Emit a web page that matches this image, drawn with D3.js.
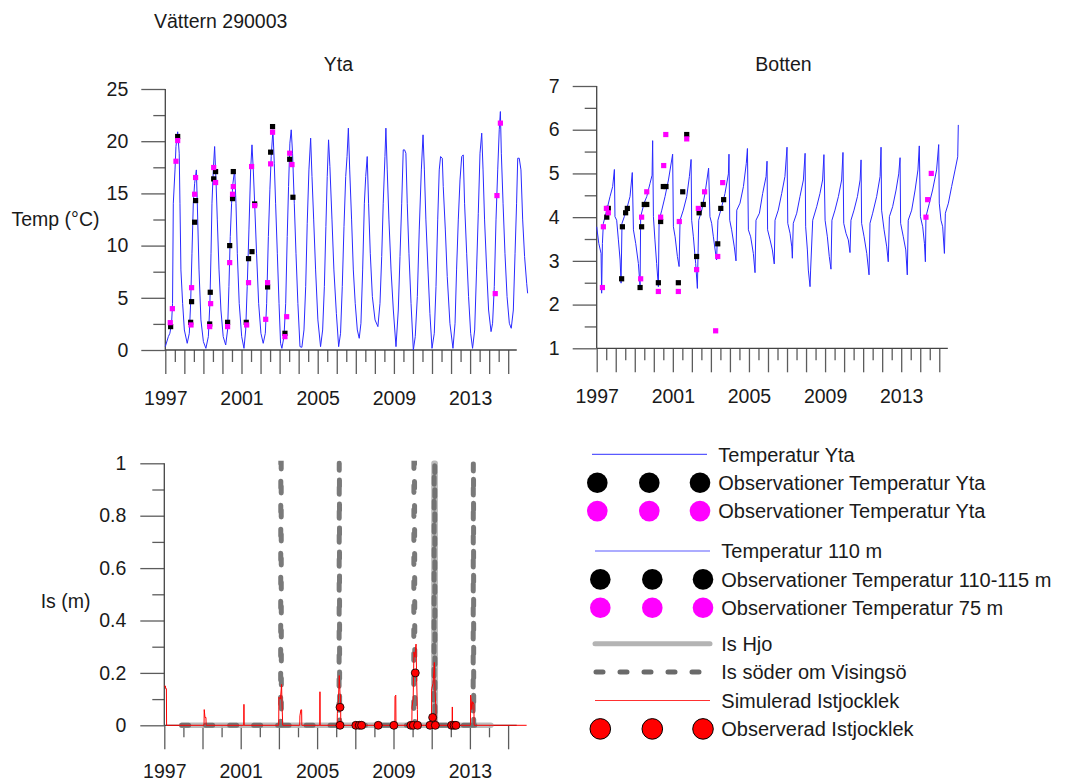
<!DOCTYPE html>
<html>
<head>
<meta charset="utf-8">
<script src="https://cdn.jsdelivr.net/npm/d3@7"></script>
<style>
  body { margin: 0; background: #fff; }
  svg { font-family: Arial, "Liberation Sans", sans-serif; }
  .tick text { fill: #1a1a1a; }
</style>
</head>
<body>
<script>
// ---- data: [decimal year, value] ----
const ytaModell = [
  [1997.00,0.32],[1997.16,1.28],[1997.24,1.60],[1997.33,2.56],[1997.38,4.47],[1997.42,14.06],[1997.51,17.25],[1997.56,19.5],[1997.65,20.9],[1997.73,18.85],[1997.77,14.06],[1997.82,7.67],[1997.91,4.47],[1998.00,1.92],[1998.15,0.64],
  [1998.26,1.60],[1998.33,4.47],[1998.40,9.27],[1998.47,14.06],[1998.54,15.97],[1998.63,17.25],[1998.68,14.06],[1998.77,7.67],[1998.87,2.88],[1999.00,0.80],[1999.13,0.16],
  [1999.26,1.28],[1999.34,4.47],[1999.40,9.27],[1999.45,14.06],[1999.52,17.25],[1999.59,19.49],[1999.66,16.29],[1999.73,12.46],[1999.82,7.67],[1999.92,3.83],[2000.04,1.28],[2000.17,0.48],
  [2000.27,1.92],[2000.34,6.07],[2000.41,10.86],[2000.48,14.06],[2000.55,15.97],[2000.64,17.25],[2000.71,14.06],[2000.78,9.27],[2000.88,4.47],[2001.01,1.28],[2001.13,0.16],
  [2001.22,1.92],[2001.30,6.07],[2001.39,11.5],[2001.48,17.25],[2001.55,19.65],[2001.62,17.25],[2001.69,14.06],[2001.79,9.27],[2001.90,4.47],[2002.02,1.60],[2002.14,0.64],
  [2002.25,1.60],[2002.32,4.47],[2002.41,10.86],[2002.49,15.34],[2002.56,18.53],[2002.65,21.09],[2002.72,17.89],[2002.79,14.06],[2002.88,9.27],[2002.97,4.47],[2003.05,0.64],[2003.12,0.16],
  [2003.23,1.28],[2003.32,4.47],[2003.40,10.86],[2003.47,15.65],[2003.54,19.81],[2003.61,21.09],[2003.68,18.85],[2003.77,14.06],[2003.86,9.27],[2003.96,4.47],[2004.07,0.32],[2004.17,0.26],
  [2004.28,1.92],[2004.37,6.07],[2004.45,12.14],[2004.54,17.25],[2004.63,20.29],[2004.70,16.61],[2004.79,12.46],[2004.89,7.67],[2005.01,2.88],[2005.15,0.32],
  [2005.26,1.92],[2005.35,6.07],[2005.43,11.82],[2005.50,16.61],[2005.57,20.13],[2005.64,17.57],[2005.75,12.46],[2005.85,7.67],[2005.98,3.51],[2006.10,0.32],
  [2006.20,1.60],[2006.29,6.07],[2006.38,11.82],[2006.47,16.61],[2006.54,18.53],[2006.61,21.25],[2006.68,17.25],[2006.78,12.46],[2006.87,7.67],[2006.97,4.47],[2007.08,1.92],[2007.18,1.12],
  [2007.27,2.56],[2007.36,7.67],[2007.45,14.06],[2007.52,16.61],[2007.60,18.53],[2007.67,14.06],[2007.76,9.27],[2007.87,5.11],[2008.01,2.88],[2008.16,2.24],
  [2008.27,4.47],[2008.36,8.95],[2008.44,14.06],[2008.53,18.53],[2008.58,21.25],[2008.65,17.25],[2008.74,12.46],[2008.85,7.67],[2008.97,3.83],[2009.11,0.32],
  [2009.23,3.83],[2009.32,8.95],[2009.41,14.06],[2009.49,19.17],[2009.56,19.17],[2009.63,18.85],[2009.70,14.06],[2009.79,9.27],[2009.90,4.47],[2010.02,0],
  [2010.12,1.28],[2010.23,5.11],[2010.33,11.5],[2010.44,17.25],[2010.53,20.61],[2010.60,17.25],[2010.68,12.46],[2010.79,7.67],[2010.89,3.51],[2011.00,0.16],
  [2011.12,1.60],[2011.21,6.07],[2011.30,12.46],[2011.38,17.25],[2011.45,18.53],[2011.54,18.37],[2011.59,15.65],[2011.70,11.5],[2011.80,7.03],[2011.94,2.56],[2012.10,0.16],
  [2012.21,2.56],[2012.29,7.67],[2012.38,12.46],[2012.47,16.29],[2012.56,18.53],[2012.64,18.69],[2012.71,14.06],[2012.82,9.27],[2012.92,5.11],[2013.03,1.60],[2013.13,0.16],
  [2013.24,1.92],[2013.34,7.67],[2013.43,13.1],[2013.52,18.85],[2013.61,20.77],[2013.68,17.25],[2013.76,12.46],[2013.87,7.67],[2013.97,3.83],[2014.10,1.76],
  [2014.18,2.56],[2014.27,6.07],[2014.36,12.46],[2014.45,17.25],[2014.53,21.09],[2014.59,22.84],[2014.64,18.85],[2014.73,14.06],[2014.83,9.27],[2014.94,5.11],[2015.06,2.56],[2015.16,2.08],
  [2015.27,3.83],[2015.36,9.27],[2015.44,14.06],[2015.50,18.37],[2015.58,18.37],[2015.67,17.25],[2015.76,12.46],[2015.86,8.95],[2015.97,6.39],[2016.02,5.43]
];
const ytaObsSvart = [
  [1997.28,2.24],[1997.65,20.45],[1998.33,2.65],[1998.38,4.63],[1998.54,12.24],[1998.59,14.31],
  [1999.33,2.49],[1999.36,5.53],[1999.54,16.39],[1999.64,17.09],[2000.27,2.65],[2000.38,10.0],
  [2000.57,17.09],[2000.53,14.5],[2001.25,2.65],[2001.37,8.75],[2001.55,9.42],[2001.69,13.99],
  [2002.37,6.04],[2002.53,18.95],[2002.63,21.4],[2003.28,1.6],[2003.53,18.27],[2003.70,14.63]
];
const ytaObsRosa = [
  [1997.26,2.62],[1997.37,3.96],[1997.56,18.08],[1997.65,20.06],[1998.35,2.4],[1998.38,5.97],
  [1998.54,14.92],[1998.59,16.52],[1999.33,2.24],[1999.38,4.44],[1999.54,17.48],[1999.64,16.04],
  [2000.27,2.24],[2000.38,8.37],[2000.53,14.92],[2000.57,15.65],[2001.27,2.4],[2001.37,6.45],
  [2001.53,17.57],[2001.69,13.83],[2002.27,2.94],[2002.37,6.45],[2002.53,17.83],[2002.63,20.86],
  [2003.28,1.28],[2003.37,3.19],[2003.53,18.85],[2003.65,17.76],[2014.32,5.4],[2014.41,14.79],[2014.59,21.73]
];
const bottenModell = [
  [1997.00,3.78],[1997.11,3.40],[1997.23,3.17],[1997.26,2.26],[1997.30,3.40],[1997.35,3.86],[1997.53,4.16],[1997.70,4.47],[1997.84,4.70],[1997.93,5.09],
  [1997.96,4.01],[1998.05,3.93],[1998.14,3.48],[1998.23,3.02],[1998.28,2.49],[1998.33,3.86],[1998.45,4.01],[1998.61,4.24],[1998.75,4.47],[1998.87,5.02],
  [1998.93,3.71],[1999.05,3.40],[1999.19,2.94],[1999.28,2.41],[1999.31,4.01],[1999.49,4.32],[1999.63,4.47],[1999.80,4.77],[1999.91,4.96],[1999.94,5.75],
  [1999.98,4.01],[2000.06,3.48],[2000.15,2.94],[2000.24,2.41],[2000.28,3.93],[2000.42,4.16],[2000.59,4.47],[2000.77,4.85],[2000.99,5.44],
  [2001.03,3.78],[2001.12,3.55],[2001.24,3.10],[2001.33,2.87],[2001.38,3.93],[2001.55,4.16],[2001.73,4.47],[2001.87,4.93],[2001.96,5.32],
  [2001.99,3.93],[2002.08,3.55],[2002.20,2.94],[2002.29,2.37],[2002.36,3.93],[2002.52,4.16],[2002.69,4.54],[2002.88,5.12],
  [2002.95,4.01],[2003.04,3.86],[2003.13,3.55],[2003.27,3.10],[2003.30,3.02],[2003.37,3.93],[2003.57,4.24],[2003.74,4.54],[2003.92,4.99],[2003.95,5.44],
  [2003.99,3.93],[2004.09,3.71],[2004.23,3.32],[2004.32,3.00],[2004.36,4.16],[2004.53,4.32],[2004.71,4.70],[2004.86,5.23],[2004.92,5.57],
  [2004.97,3.71],[2005.09,3.55],[2005.23,3.17],[2005.32,2.73],[2005.37,3.93],[2005.55,4.09],[2005.72,4.54],[2005.90,4.93],[2005.95,5.28],
  [2005.98,3.71],[2006.11,3.48],[2006.23,3.25],[2006.33,2.93],[2006.37,3.93],[2006.54,4.16],[2006.72,4.54],[2006.89,4.93],[2007.00,5.60],
  [2007.04,3.86],[2007.16,3.63],[2007.25,3.32],[2007.28,3.06],[2007.33,3.86],[2007.51,4.09],[2007.68,4.47],[2007.86,4.85],[2007.95,5.46],
  [2007.98,3.78],[2008.07,3.25],[2008.12,2.79],[2008.21,2.41],[2008.24,2.79],[2008.35,3.93],[2008.56,4.24],[2008.73,4.54],[2008.87,4.85],[2008.94,5.43],
  [2009.00,3.93],[2009.12,3.55],[2009.22,3.10],[2009.31,2.81],[2009.36,3.93],[2009.52,4.16],[2009.70,4.47],[2009.87,4.85],[2009.94,5.48],
  [2009.98,3.86],[2010.10,3.63],[2010.22,3.48],[2010.31,3.19],[2010.36,3.93],[2010.52,4.16],[2010.70,4.47],[2010.84,4.85],[2010.89,5.31],
  [2010.92,3.86],[2011.05,3.55],[2011.19,3.17],[2011.31,2.68],[2011.36,3.86],[2011.50,4.09],[2011.71,4.47],[2011.89,4.93],[2011.94,5.60],
  [2011.97,4.16],[2012.10,3.71],[2012.24,3.32],[2012.32,2.98],[2012.38,4.01],[2012.55,4.24],[2012.73,4.62],[2012.87,4.99],[2012.94,5.36],
  [2012.97,3.86],[2013.11,3.55],[2013.24,3.25],[2013.32,2.68],[2013.37,3.93],[2013.55,4.16],[2013.73,4.62],[2013.88,5.08],[2013.95,5.63],
  [2014.01,4.01],[2014.13,3.78],[2014.22,3.40],[2014.27,2.98],[2014.30,4.01],[2014.48,4.32],[2014.65,4.62],[2014.86,5.08],[2014.97,5.66],
  [2015.00,4.32],[2015.09,3.93],[2015.18,3.78],[2015.27,3.17],[2015.32,4.09],[2015.48,4.32],[2015.65,4.70],[2015.83,5.08],[2015.97,5.38],[2016.00,6.11]
];
const bottenObs110 = [
  [1997.53,4.0],[1997.61,4.2],[1998.31,2.59],[1998.35,3.78],[1998.52,4.1],[1998.61,4.2],
  [1999.28,2.39],[1999.36,3.78],[1999.50,4.29],[1999.63,4.29],[2000.24,2.5],[2000.36,3.9],
  [2000.50,4.7],[2000.64,4.7],[2001.29,2.5],[2001.52,4.58],[2001.73,5.89],[2002.25,3.1],
  [2002.38,4.1],[2002.60,4.29],[2003.36,3.39],[2003.52,4.2],[2003.67,4.4]
];
const bottenObs75 = [
  [1997.30,2.39],[1997.35,3.78],[1997.51,4.2],[1997.61,4.1],[1999.31,2.59],[1999.36,4.0],
  [1999.63,4.58],[2000.24,2.3],[2000.36,4.0],[2000.52,5.18],[2000.63,5.89],[2001.29,2.3],
  [2001.34,3.9],[2001.73,5.79],[2002.25,2.8],[2002.34,4.2],[2002.67,4.58],[2003.25,1.4],
  [2003.36,3.1],[2003.62,4.79],[2014.30,4.0],[2014.39,4.4],[2014.58,5.0]
];
const isHjo = [
  [1997.91,0],[2011.11,0],[2011.12,1],[2011.18,1],[2011.19,0],[2014.10,0]
];
const isVisingso = [
  [1997.91,0],[2003.09,0],[2003.10,1],[2003.12,1],[2003.13,0],
  [2006.15,0],[2006.16,1],[2006.17,1],[2006.18,0],
  [2010.06,0],[2010.07,1],[2010.10,1],[2010.12,0],
  [2011.12,0],[2011.13,1],[2011.16,1],[2011.17,0],
  [2013.17,0],[2013.18,1],[2013.19,1],[2013.20,0],[2014.10,0]
];
const isModell = [
  [1997.00,0.15],[1997.06,0.15],[1997.07,0.14],[1997.11,0.14],[1997.12,0],
  [1999.08,0],[1999.09,0.06],[1999.13,0.03],[1999.18,0.03],[1999.19,0],
  [2001.16,0],[2001.17,0.08],[2001.18,0],
  [2002.99,0],[2003.00,0.107],[2003.08,0.10],[2003.14,0.156],[2003.16,0.09],[2003.20,0],
  [2004.09,0],[2004.10,0.036],[2004.15,0.059],[2004.19,0.059],[2004.20,0],
  [2005.14,0],[2005.15,0.128],[2005.16,0],
  [2006.05,0],[2006.06,0.046],[2006.12,0.10],[2006.16,0.19],[2006.20,0.12],[2006.23,0.116],[2006.24,0],
  [2009.07,0],[2009.08,0.11],[2009.12,0.115],[2009.13,0],
  [2009.96,0],[2009.97,0.07],[2010.03,0.10],[2010.07,0.28],[2010.12,0.26],[2010.18,0.31],[2010.22,0.15],[2010.25,0.06],[2010.26,0],
  [2010.99,0],[2011.00,0.14],[2011.07,0.16],[2011.14,0.24],[2011.18,0.12],[2011.22,0.07],[2011.23,0],
  [2012.07,0],[2012.08,0.07],[2012.09,0],
  [2013.03,0],[2013.04,0.115],[2013.10,0.06],[2013.14,0.09],[2013.21,0.08],[2013.22,0],[2015.97,0]
];
const isObs = [
  [2006.20,0.069],[2006.20,0],[2007.03,0],[2007.21,0],[2007.33,0],[2008.20,0],[2009.02,0],
  [2009.91,0],[2010.04,0],[2010.14,0.2],[2010.26,0],[2010.91,0],[2011.05,0.03],[2011.19,0],
  [2012.04,0],[2012.17,0],[2012.27,0]
];
const yearLabels = [1997, 2001, 2005, 2009, 2013];
const legendItems = [
  { label: "Temperatur Yta", kind: "line", color: "#5a5aff" },
  { label: "Observationer Temperatur Yta", kind: "dot", color: "#000" },
  { label: "Observationer Temperatur Yta", kind: "dot", color: "#ff00ff" },
  { label: "Temperatur 110 m", kind: "line", color: "#5a5aff" },
  { label: "Observationer  Temperatur 110-115 m", kind: "dot", color: "#000" },
  { label: "Observationer  Temperatur 75 m", kind: "dot", color: "#ff00ff" },
  { label: "Is Hjo", kind: "hjo", color: "#b4b4b4" },
  { label: "Is söder om Visingsö", kind: "dash", color: "#6a6a6a" },
  { label: "Simulerad Istjocklek", kind: "line", color: "#ff3030" },
  { label: "Observerad Istjocklek", kind: "reddot", color: "#ff0000" }
];

const W = 1071, H = 781;
const svg = d3.select("body").append("svg")
  .attr("width", W).attr("height", H);
svg.append("rect").attr("width", W).attr("height", H).attr("fill", "#fff");

const FS = 19.5;

// draws ticks + axis lines for one panel
function axes(x, y, o) {
  const g = svg.append("g");
  const base = o.yDomain[0], top = o.yDomain[1];

  // y major + minor
  g.append("g").attr("transform", `translate(${x(1997)},0)`)
    .call(d3.axisLeft(y).tickValues(o.yMajor).tickSize(24).tickPadding(o.yPad).tickFormat(o.yFmt))
    .call(a => a.select(".domain").remove())
    .call(a => a.selectAll("text").attr("font-size", FS).attr("font-family", null));
  g.append("g").attr("transform", `translate(${x(1997)},0)`)
    .call(d3.axisLeft(y).tickValues(o.yMinor).tickSize(12).tickFormat(""))
    .call(a => a.select(".domain").remove());

  // x long + short
  g.append("g").attr("transform", `translate(0,${y(base)})`)
    .call(d3.axisBottom(x).tickValues(o.xLong).tickSize(24).tickPadding(o.xPad)
      .tickFormat(d => yearLabels.includes(d) ? d : ""))
    .call(a => a.select(".domain").remove())
    .call(a => a.selectAll("text").attr("font-size", FS).attr("font-family", null));
  g.append("g").attr("transform", `translate(0,${y(base)})`)
    .call(d3.axisBottom(x).tickValues(o.xShort).tickSize(12).tickFormat(""))
    .call(a => a.select(".domain").remove());

  g.selectAll(".tick line").attr("stroke", "#5c5c5c").attr("stroke-width", 1.3);

  g.append("line")
    .attr("x1", x(1997)).attr("x2", x(2015.45))
    .attr("y1", y(base)).attr("y2", y(base))
    .attr("stroke", "#444").attr("stroke-width", 1.3);
  g.append("line")
    .attr("x1", x(1997)).attr("x2", x(1997))
    .attr("y1", y(base)).attr("y2", y(top))
    .attr("stroke", "#444").attr("stroke-width", 1.3);
}

const halfYears = d3.range(1997, 2015.01, 0.5);
const years = d3.range(1997, 2015.01, 1);

// ---- Yta ----
const x1 = d3.scaleLinear().domain([1997, 2016]).range([165.3, 527.25]);
const y1 = d3.scaleLinear().domain([0, 25]).range([350, 89]);
axes(x1, y1, {
  yDomain: [0, 25], yMajor: [0, 5, 10, 15, 20, 25], yMinor: [2.5, 7.5, 12.5, 17.5, 22.5],
  yFmt: d => d, yPad: 13, xPad: 17,
  xLong: halfYears.filter(d => Number.isInteger(d)), xShort: halfYears.filter(d => !Number.isInteger(d))
});

const line1 = d3.line().x(d => x1(d[0])).y(d => y1(d[1]));
svg.append("path").datum(ytaModell)
  .attr("d", line1).attr("fill", "none").attr("stroke", "#2a2aff").attr("stroke-width", 1);

function squares(data, x, y, color) {
  svg.append("g").selectAll("rect").data(data).join("rect")
    .attr("x", d => x(d[0]) - 2.6).attr("y", d => y(d[1]) - 2.6)
    .attr("width", 5.2).attr("height", 5.2).attr("fill", color);
}
squares(ytaObsSvart, x1, y1, "#000");
squares(ytaObsRosa, x1, y1, "#ff00ff");

// ---- Botten ----
const x2 = d3.scaleLinear().domain([1997, 2016]).range([596.7, 958.3]);
const y2 = d3.scaleLinear().domain([1, 7]).range([348.3, 86]);
axes(x2, y2, {
  yDomain: [1, 7], yMajor: [1, 2, 3, 4, 5, 6, 7], yMinor: [1.5, 2.5, 3.5, 4.5, 5.5, 6.5],
  yFmt: d => d, yPad: 13, xPad: 17,
  xLong: halfYears.filter(d => Number.isInteger(d)), xShort: halfYears.filter(d => !Number.isInteger(d))
});
const line2 = d3.line().x(d => x2(d[0])).y(d => y2(d[1]));
svg.append("path").datum(bottenModell)
  .attr("d", line2).attr("fill", "none").attr("stroke", "#2a2aff").attr("stroke-width", 1);
squares(bottenObs110, x2, y2, "#000");
squares(bottenObs75, x2, y2, "#ff00ff");

// ---- Is ----
const x3 = d3.scaleLinear().domain([1997, 2016]).range([164.3, 527.2]);
const y3 = d3.scaleLinear().domain([0, 1]).range([725.3, 463.3]);
axes(x3, y3, {
  yDomain: [0, 1], yMajor: [0, 0.2, 0.4, 0.6, 0.8, 1], yMinor: [0.1, 0.3, 0.5, 0.7, 0.9],
  yFmt: d => d, yPad: 14, xPad: 15,
  xLong: years.filter(d => (d - 1997) % 2 === 0), xShort: years.filter(d => (d - 1997) % 2 === 1)
});
const line3 = d3.line().x(d => x3(d[0])).y(d => y3(d[1]));
svg.append("path").datum(isHjo)
  .attr("d", line3).attr("fill", "none").attr("stroke", "#b4b4b4").attr("stroke-width", 5.5)
  .attr("stroke-linejoin", "round").attr("stroke-linecap", "round").attr("opacity", 0.9);
svg.append("path").datum(isVisingso)
  .attr("d", line3).attr("fill", "none").attr("stroke", "#6a6a6a").attr("stroke-width", 5)
  .attr("stroke-dasharray", "7 17").attr("stroke-linecap", "round").attr("opacity", 0.9);
svg.append("path").datum(isModell)
  .attr("d", line3).attr("fill", "none").attr("stroke", "#ff0000").attr("stroke-width", 1);
svg.append("g").selectAll("circle").data(isObs).join("circle")
  .attr("cx", d => x3(d[0])).attr("cy", d => y3(d[1])).attr("r", 4)
  .attr("fill", "#ff0000").attr("stroke", "#000").attr("stroke-width", 0.8);

// ---- titles ----
const txt = (x, y, s, anchor) => svg.append("text")
  .attr("x", x).attr("y", y).attr("font-size", FS).attr("fill", "#1a1a1a")
  .attr("text-anchor", anchor || "start").text(s);
txt(154, 28.3, "Vättern 290003");
txt(338.5, 70.7, "Yta", "middle");
txt(783.5, 71, "Botten", "middle");
txt(11.5, 226, "Temp (°C)");
txt(40.7, 608.3, "Is (m)");

// ---- legend ----
const groupOf = i => i < 3 ? 0 : i < 6 ? 1 : 2;
const groupShift = [0, 11.5, 19];
const lg = svg.append("g");
legendItems.forEach((it, i) => {
  const gi = groupOf(i);
  const cy = 454.3 + i * 28.4 + groupShift[gi];
  const dx = gi === 0 ? 0 : 3;
  if (it.kind === "line") {
    lg.append("line").attr("x1", 592 + dx).attr("x2", 707 + dx).attr("y1", cy).attr("y2", cy)
      .attr("stroke", it.color).attr("stroke-width", 1.2);
  } else if (it.kind === "hjo") {
    lg.append("line").attr("x1", 595).attr("x2", 710).attr("y1", cy).attr("y2", cy)
      .attr("stroke", it.color).attr("stroke-width", 5).attr("stroke-linecap", "round");
  } else if (it.kind === "dash") {
    lg.append("line").attr("x1", 596).attr("x2", 708).attr("y1", cy).attr("y2", cy)
      .attr("stroke", it.color).attr("stroke-width", 5).attr("stroke-linecap", "round")
      .attr("stroke-dasharray", "7 17");
  } else {
    [597.3, 649.3, 700].forEach(cx => {
      lg.append("circle").attr("cx", cx + dx).attr("cy", cy).attr("r", 10.3)
        .attr("fill", it.color)
        .attr("stroke", it.kind === "reddot" ? "#000" : "none").attr("stroke-width", 1);
    });
  }
  lg.append("text").attr("x", 718.3 + dx).attr("y", cy + 7.3)
    .attr("font-size", 20).attr("fill", "#1a1a1a").text(it.label);
});
</script>
</body>
</html>
